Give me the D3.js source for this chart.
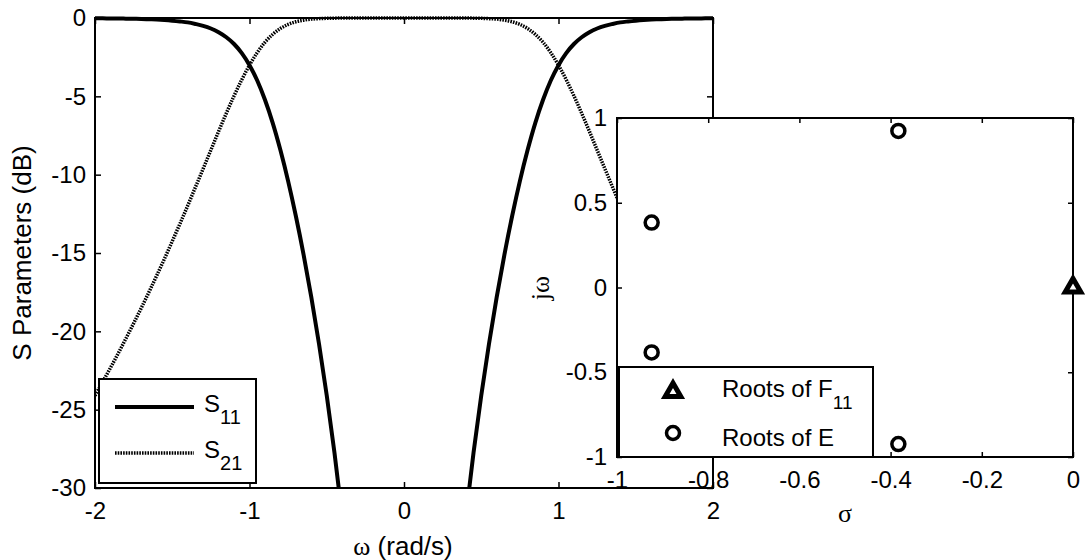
<!DOCTYPE html>
<html>
<head>
<meta charset="utf-8">
<script src="https://cdn.jsdelivr.net/npm/d3@7"></script>
<style>
  body { margin: 0; background: #fff; }
  text { font-family: Arial, "Liberation Sans", Helvetica, sans-serif; fill: #000; }
  .greek { font-family: "Liberation Serif", "Times New Roman", "DejaVu Serif", serif; }
</style>
</head>
<body>
<svg id="chart" width="1090" height="560"></svg>
<script>
// Frequency response of the low-pass prototype, sampled in rad/s
const omega = [
  -2.00, -1.95, -1.90, -1.85, -1.80, -1.75, -1.70, -1.65, -1.60, -1.55,
  -1.50, -1.45, -1.40, -1.35, -1.30, -1.25, -1.20, -1.15, -1.10, -1.05,
  -1.00, -0.95, -0.90, -0.85, -0.80, -0.75, -0.70, -0.65, -0.60, -0.55,
  -0.50, -0.45, -0.40, -0.35, -0.30, -0.25, -0.20, -0.15, -0.10, -0.05,
   0.00,
   0.05,  0.10,  0.15,  0.20,  0.25,  0.30,  0.35,  0.40,  0.45,  0.50,
   0.55,  0.60,  0.65,  0.70,  0.75,  0.80,  0.85,  0.90,  0.95,  1.00,
   1.05,  1.10,  1.15,  1.20,  1.25,  1.30,  1.35,  1.40,  1.45,  1.50,
   1.55,  1.60,  1.65,  1.70,  1.75,  1.80,  1.85,  1.90,  1.95,  2.00
];
// |S11| in dB (null = far below the -30 dB floor)
const s11Db = [
  -0.02, -0.02, -0.03, -0.03, -0.04, -0.05, -0.06, -0.08, -0.10, -0.13,
  -0.17, -0.22, -0.28, -0.38, -0.50, -0.67, -0.91, -1.23, -1.66, -2.24,
  -3.01, -3.99, -5.22, -6.69, -8.43, -10.41, -12.64, -15.10, -17.82, -20.81,
  -24.10, -27.75, -31.84, -36.47, null, null, null, null, null, null,
  null,
  null, null, null, null, null, null, -36.47, -31.84, -27.75, -24.10,
  -20.81, -17.82, -15.10, -12.64, -10.41, -8.43, -6.69, -5.22, -3.99, -3.01,
  -2.24, -1.66, -1.23, -0.91, -0.67, -0.50, -0.38, -0.28, -0.22, -0.17,
  -0.13, -0.10, -0.08, -0.06, -0.05, -0.04, -0.03, -0.03, -0.02, -0.02
];
// |S21| in dB
const s21Db = [
  -24.10, -23.22, -22.33, -21.41, -20.46, -19.49, -18.50, -17.48, -16.43, -15.36,
  -14.25, -13.13, -11.98, -10.80, -9.62, -8.43, -7.24, -6.08, -4.97, -3.94,
  -3.01, -2.21, -1.55, -1.05, -0.67, -0.41, -0.24, -0.14, -0.07, -0.04,
  -0.02, -0.01, 0, 0, 0, 0, 0, 0, 0, 0,
  0,
  0, 0, 0, 0, 0, 0, 0, 0, -0.01, -0.02,
  -0.04, -0.07, -0.14, -0.24, -0.41, -0.67, -1.05, -1.55, -2.21, -3.01,
  -3.94, -4.97, -6.08, -7.24, -8.43, -9.62, -10.80, -11.98, -13.13, -14.25,
  -15.36, -16.43, -17.48, -18.50, -19.49, -20.46, -21.41, -22.33, -23.22, -24.10
];
const mainXTicks = [-2, -1, 0, 1, 2];
const mainYTicks = [0, -5, -10, -15, -20, -25, -30];

// Pole/zero locations in the s-plane
const rootsESigma = [-0.924, -0.924, -0.383, -0.383];
const rootsEOmega = [0.383, -0.383, 0.924, -0.924];
const rootsFSigma = [0];
const rootsFOmega = [0];
const insetXTicks = [-1, -0.8, -0.6, -0.4, -0.2, 0];
const insetYTicks = [-1, -0.5, 0, 0.5, 1];

const svg = d3.select("#chart");
const TICK_FONT = 24;
const DOTTED = "1.6,1.1";

// Boxed axes with inward ticks on all four sides
function boxAxes(g, x, y, xTicks, yTicks, tick, padX, padY) {
  const [x0, x1] = x.range();
  const [y0, y1] = y.range(); // y0 bottom, y1 top
  const fmt = d => String(d);
  const bottom = g.append("g").attr("transform", `translate(0,${y0})`)
    .call(d3.axisBottom(x).tickValues(xTicks).tickSizeInner(-tick).tickSizeOuter(0).tickPadding(padX).tickFormat(fmt));
  const left = g.append("g").attr("transform", `translate(${x0},0)`)
    .call(d3.axisLeft(y).tickValues(yTicks).tickSizeInner(-tick).tickSizeOuter(0).tickPadding(padY).tickFormat(fmt));
  const top = g.append("g").attr("transform", `translate(0,${y1})`)
    .call(d3.axisTop(x).tickValues(xTicks).tickSizeInner(-tick).tickSizeOuter(0).tickFormat(""));
  const right = g.append("g").attr("transform", `translate(${x1},0)`)
    .call(d3.axisRight(y).tickValues(yTicks).tickSizeInner(-tick).tickSizeOuter(0).tickFormat(""));
  [bottom, left, top, right].forEach(a => {
    a.select(".domain").remove();
    a.attr("font-family", null).attr("font-size", TICK_FONT);
    a.selectAll("line").attr("stroke", "#000").attr("stroke-width", 1.5);
    a.selectAll("text").attr("fill", "#000");
  });
  g.append("rect")
    .attr("x", x0).attr("y", y1)
    .attr("width", x1 - x0).attr("height", y0 - y1)
    .attr("fill", "none").attr("stroke", "#000").attr("stroke-width", 2);
}

// ---------- Main S-parameter plot ----------
const x = d3.scaleLinear().domain([-2, 2]).range([95, 713]);
const y = d3.scaleLinear().domain([-30, 0]).range([488, 18]);

const main = svg.append("g");
main.append("clipPath").attr("id", "mainClip")
  .append("rect").attr("x", 95).attr("y", 14).attr("width", 618).attr("height", 474);

const pts11 = omega.map((w, i) => [w, s11Db[i]]);
const pts21 = omega.map((w, i) => [w, s21Db[i]]);
const line = d3.line()
  .defined(d => d[1] !== null)
  .x(d => x(d[0])).y(d => y(d[1]))
  .curve(d3.curveMonotoneX);

const curves = main.append("g").attr("clip-path", "url(#mainClip)");
curves.append("path").datum(pts21).attr("d", line)
  .attr("fill", "none").attr("stroke", "#000").attr("stroke-width", 3.5)
  .attr("stroke-dasharray", DOTTED);
curves.append("path").datum(pts11).attr("d", line)
  .attr("fill", "none").attr("stroke", "#000").attr("stroke-width", 4)
  .attr("stroke-linejoin", "round");

boxAxes(main, x, y, mainXTicks, mainYTicks, 6, 14, 9);

main.append("text")
  .attr("transform", "translate(31,253) rotate(-90)")
  .attr("text-anchor", "middle").attr("font-size", 26)
  .text("S Parameters (dB)");
const xl = main.append("text")
  .attr("x", 403).attr("y", 555).attr("text-anchor", "middle").attr("font-size", 26);
xl.append("tspan").attr("class", "greek").text("ω");
xl.append("tspan").text(" (rad/s)");

// Legend of the main plot
const leg = main.append("g");
leg.append("rect").attr("x", 99).attr("y", 379).attr("width", 157).attr("height", 104)
  .attr("fill", "#fff").attr("stroke", "#000").attr("stroke-width", 2);
const legendItems = [
  { sub: "11", y: 407, dash: null, width: 4 },
  { sub: "21", y: 453, dash: DOTTED, width: 3.5 }
];
legendItems.forEach(it => {
  leg.append("line").attr("x1", 115).attr("x2", 194).attr("y1", it.y).attr("y2", it.y)
    .attr("stroke", "#000").attr("stroke-width", it.width)
    .attr("stroke-dasharray", it.dash);
  const t = leg.append("text").attr("x", 204).attr("y", it.y + 5).attr("font-size", 24);
  t.append("tspan").text("S");
  t.append("tspan").attr("dy", 12).attr("font-size", 20).text(it.sub);
});

// ---------- Inset pole/zero plot ----------
const xi = d3.scaleLinear().domain([-1, 0]).range([617, 1073]);
const yi = d3.scaleLinear().domain([-1, 1]).range([457, 118]);
const inset = svg.append("g");
inset.append("rect").attr("x", 617).attr("y", 118).attr("width", 456).attr("height", 339)
  .attr("fill", "#fff");
boxAxes(inset, xi, yi, insetXTicks, insetYTicks, 5, 14, 10);

inset.append("text")
  .attr("class", "greek")
  .attr("transform", "translate(549,288) rotate(-90)")
  .attr("text-anchor", "middle").attr("font-size", 26)
  .text("jω");
inset.append("text")
  .attr("class", "greek")
  .attr("x", 845).attr("y", 522).attr("text-anchor", "middle").attr("font-size", 26)
  .text("σ");

const triangle = d3.symbol(d3.symbolTriangle, 105);
const eRoots = rootsESigma.map((s, i) => [s, rootsEOmega[i]]);
const fRoots = rootsFSigma.map((s, i) => [s, rootsFOmega[i]]);

inset.append("g").selectAll("circle").data(eRoots).join("circle")
  .attr("cx", d => xi(d[0])).attr("cy", d => yi(d[1])).attr("r", 6.5)
  .attr("fill", "none").attr("stroke", "#000").attr("stroke-width", 3.5);
inset.append("g").selectAll("path").data(fRoots).join("path")
  .attr("d", triangle)
  .attr("transform", d => `translate(${xi(d[0])},${yi(d[1])})`)
  .attr("fill", "#fff").attr("stroke", "#000").attr("stroke-width", 5)
  .attr("stroke-linejoin", "miter");

// Legend of the inset
const leg2 = inset.append("g");
leg2.append("rect").attr("x", 619).attr("y", 367).attr("width", 254).attr("height", 90)
  .attr("fill", "#fff").attr("stroke", "#000").attr("stroke-width", 2);
leg2.append("path").attr("d", triangle).attr("transform", "translate(673,392)")
  .attr("fill", "#fff").attr("stroke", "#000").attr("stroke-width", 5)
  .attr("stroke-linejoin", "miter");
leg2.append("circle").attr("cx", 673).attr("cy", 433).attr("r", 6.5)
  .attr("fill", "none").attr("stroke", "#000").attr("stroke-width", 3.5);
const tF = leg2.append("text").attr("x", 722).attr("y", 397).attr("font-size", 24);
tF.append("tspan").text("Roots of F");
tF.append("tspan").attr("dy", 12).attr("font-size", 19).text("11");
leg2.append("text").attr("x", 722).attr("y", 446).attr("font-size", 24).text("Roots of E");
</script>
</body>
</html>
